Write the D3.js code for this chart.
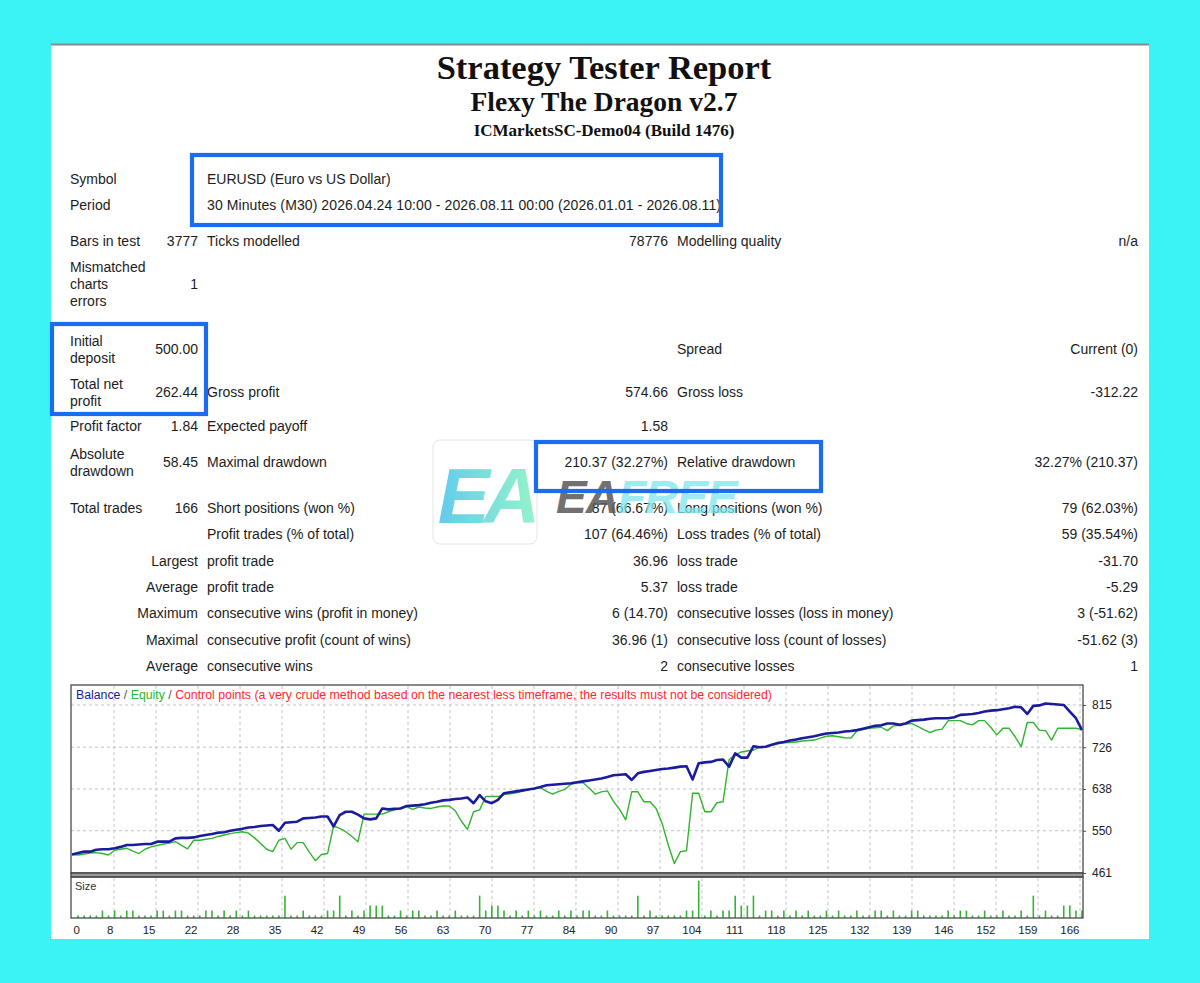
<!DOCTYPE html>
<html><head><meta charset="utf-8">
<script src="https://cdn.jsdelivr.net/npm/d3@7"></script>
<style>
html,body{margin:0;padding:0;background:#3cf3f3;}
svg{display:block;}
</style>
</head><body>
<svg id="c" width="1200" height="983"></svg>
<script>
// ---------------- DATA ----------------
const titleLines = ["Strategy Tester Report", "Flexy The Dragon v2.7", "ICMarketsSC-Demo04 (Build 1476)"];

// report table: 6 columns [label, value, label, value, label, value]
const reportRows = [
  ["Symbol", "", "EURUSD (Euro vs US Dollar)", "", "", ""],
  ["Period", "", "30 Minutes (M30) 2026.04.24 10:00 - 2026.08.11 00:00 (2026.01.01 - 2026.08.11)", "", "", ""],
  ["Bars in test", "3777", "Ticks modelled", "78776", "Modelling quality", "n/a"],
  ["Mismatched\ncharts\nerrors", "1", "", "", "", ""],
  ["Initial\ndeposit", "500.00", "", "", "Spread", "Current (0)"],
  ["Total net\nprofit", "262.44", "Gross profit", "574.66", "Gross loss", "-312.22"],
  ["Profit factor", "1.84", "Expected payoff", "1.58", "", ""],
  ["Absolute\ndrawdown", "58.45", "Maximal drawdown", "210.37 (32.27%)", "Relative drawdown", "32.27% (210.37)"],
  ["Total trades", "166", "Short positions (won %)", "87 (66.67%)", "Long positions (won %)", "79 (62.03%)"],
  ["", "", "Profit trades (% of total)", "107 (64.46%)", "Loss trades (% of total)", "59 (35.54%)"],
  ["", "Largest", "profit trade", "36.96", "loss trade", "-31.70"],
  ["", "Average", "profit trade", "5.37", "loss trade", "-5.29"],
  ["", "Maximum", "consecutive wins (profit in money)", "6 (14.70)", "consecutive losses (loss in money)", "3 (-51.62)"],
  ["", "Maximal", "consecutive profit (count of wins)", "36.96 (1)", "consecutive loss (count of losses)", "-51.62 (3)"],
  ["", "Average", "consecutive wins", "2", "consecutive losses", "1"]
];

// balance per trade (index 0 = initial deposit)
const balance = [
  500,503,506,506,510,511,511,513,516,520,
  520,521,522,522,527,527,527,534,535,535,
  536,539,541,543,546,547,550,552,554,557,
  558,560,561,562,550,567,568,569,576,577,
  578,580,580,559,583,590,590,584,576,574,
  576,597,595,596,597,602,603,604,606,609,
  611,614,615,617,618,620,608,625,612,608,
  615,629,631,633,635,637,639,642,646,647,
  648,649,650,652,654,656,658,660,663,667,
  668,669,657,671,674,676,678,680,681,683,
  685,686,658,692,694,695,699,700,685,713,
  704,704,728,726,727,731,735,737,740,742,
  745,747,749,752,755,756,757,759,760,762,
  765,768,771,772,776,776,773,776,782,783,
  784,786,787,787,787,789,794,795,796,798,
  801,803,804,806,808,811,810,796,813,814,
  818,817,816,815,801,787,762
];

// equity per trade
const equity = [
  500,499,501,503,504,502,499,509,511,513,
  507,502,511,516,519,522,524,527,519,512,
  530,530,532,534,538,541,544,546,548,545,
  535,523,511,506,530,534,511,525,525,505,
  487,500,502,560,555,548,538,527,585,585,
  585,585,590,594,598,601,595,600,598,597,
  600,602,602,592,570,553,590,594,622,622,
  622,626,628,630,633,636,639,641,633,627,
  633,637,648,651,651,640,627,632,634,612,
  595,573,632,632,611,611,597,565,520,481,
  506,508,629,629,590,590,609,611,700,710,
  716,718,720,726,727,730,733,735,736,737,
  739,740,741,745,749,750,748,746,745,760,
  763,766,767,768,761,771,772,775,776,770,
  763,757,762,764,782,782,782,776,773,782,
  782,768,752,766,766,748,727,778,778,762,
  761,741,766,766,766,766,763
];

// lot size of trades 1..166
const lotSize = [
  0.01,0.01,0.01,0.01,0.03,0.01,0.03,0.01,0.03,0.03,
  0.01,0.01,0.01,0.03,0.03,0.01,0.03,0.03,0.01,0.01,
  0.01,0.03,0.03,0.01,0.03,0.01,0.03,0.01,0.03,0.01,
  0.01,0.01,0.01,0.01,0.09,0.01,0.01,0.03,0.01,0.01,
  0.01,0.03,0.03,0.09,0.01,0.03,0.01,0.03,0.05,0.05,
  0.05,0.01,0.01,0.03,0.01,0.03,0.03,0.01,0.01,0.03,
  0.01,0.01,0.03,0.01,0.01,0.01,0.09,0.03,0.05,0.05,
  0.03,0.01,0.03,0.01,0.03,0.01,0.03,0.01,0.01,0.03,
  0.01,0.03,0.01,0.03,0.03,0.01,0.01,0.03,0.01,0.01,
  0.01,0.01,0.09,0.01,0.03,0.01,0.01,0.01,0.01,0.01,
  0.03,0.03,0.15,0.01,0.03,0.01,0.03,0.03,0.09,0.05,
  0.05,0.09,0.01,0.03,0.03,0.01,0.03,0.01,0.03,0.01,
  0.03,0.01,0.01,0.03,0.01,0.03,0.01,0.01,0.03,0.01,
  0.01,0.03,0.03,0.01,0.03,0.01,0.01,0.03,0.03,0.01,
  0.01,0.01,0.01,0.03,0.01,0.03,0.03,0.01,0.01,0.03,
  0.01,0.01,0.03,0.01,0.01,0.03,0.01,0.09,0.01,0.03,
  0.01,0.01,0.05,0.05,0.03,0.03
];

const yTickValues = [461, 550, 638, 726, 815];
const xTickLabels = ["0","8","15","22","28","35","42","49","56","63","70","77","84","90","97","104","111","118","125","132","139","146","152","159","166"];
const legendParts = [
  ["Balance", "balance"], [" / ", "sep"], ["Equity", "equity"], [" / ", "sep"],
  ["Control points (a very crude method based on the nearest less timeframe, the results must not be considered)", "control"]
];

// ---------------- LAYOUT / STYLE ----------------
const svg = d3.select("#c");
const SANS = "Tahoma, 'Liberation Sans', Arial, sans-serif";
const SERIF = "'Liberation Serif', 'Times New Roman', serif";
const colors = {balance:"#1b1b9e", equity:"#2fb52f", sep:"#555", control:"#ff2a2a", size:"#33b533", grid:"#c4c4c4", blue:"#1a6cf0"};

// card
svg.append("rect").attr("x",51).attr("y",44).attr("width",1098).attr("height",895).attr("fill","#fff");
svg.append("line").attr("x1",51).attr("x2",1149).attr("y1",44.5).attr("y2",44.5).attr("stroke","#8a8a8a").attr("stroke-width",2);

// titles
const titleSpec = [{y:79, size:34.5}, {y:111, size:27.5}, {y:136, size:17}];
svg.selectAll("text.title").data(titleLines).join("text")
  .attr("class","title").attr("x",604).attr("y",(d,i)=>titleSpec[i].y)
  .attr("text-anchor","middle").attr("font-family",SERIF).attr("font-weight","bold")
  .attr("font-size",(d,i)=>titleSpec[i].size).attr("fill","#111").text(d=>d);

// table
const rowCenters = [179, 205, 241, 284, 349, 392, 426, 462, 508, 534, 561, 587, 613, 640, 666];
const colX = [70, 198, 207, 668, 677, 1138];
const colAnchor = ["start","end","start","end","start","end"];
const lineH = 17;
const tbl = svg.append("g").attr("font-family",SANS).attr("font-size",14).attr("fill","#1c1c1c");
reportRows.forEach((row, ri) => {
  row.forEach((cell, ci) => {
    if (!cell) return;
    const lines = cell.split("\n");
    const t = tbl.append("text").attr("text-anchor", colAnchor[ci]);
    lines.forEach((ln, li) => {
      t.append("tspan").attr("x", colX[ci])
        .attr("y", rowCenters[ri] + 5 + (li - (lines.length-1)/2) * lineH).text(ln);
    });
    if (ri === 1 && ci === 2) t.attr("textLength", 514).attr("lengthAdjust", "spacing");
  });
});

// ---------------- CHART ----------------
const PL = 71, PR = 1083, PT = 685, PB = 873, ST = 877, SB = 918;
const x = d3.scaleLinear().domain([0, balance.length - 1]).range([72, 1082]);
const y = d3.scaleLinear().domain([461, 857]).range([PB, PT]);
const gx = d3.scaleLinear().domain([0, xTickLabels.length - 1]).range([72, 1080]);
const ys = d3.scaleLinear().domain([0, 0.165]).range([SB, ST]);

const chart = svg.append("g");
chart.append("rect").attr("x",PL).attr("y",PT).attr("width",PR-PL).attr("height",PB-PT).attr("fill","#fff");
chart.append("rect").attr("x",PL).attr("y",ST).attr("width",PR-PL).attr("height",SB-ST).attr("fill","#fff");

// vertical grid (both panels)
const gridIdx = d3.range(1, xTickLabels.length);
chart.selectAll("line.vg").data(gridIdx).join("line").attr("class","vg")
  .attr("x1",d=>gx(d)).attr("x2",d=>gx(d)).attr("y1",PT+1).attr("y2",PB)
  .attr("stroke",colors.grid).attr("stroke-dasharray","3,3");
chart.selectAll("line.vgs").data(gridIdx).join("line").attr("class","vgs")
  .attr("x1",d=>gx(d)).attr("x2",d=>gx(d)).attr("y1",ST+1).attr("y2",SB)
  .attr("stroke",colors.grid).attr("stroke-dasharray","3,3");
// horizontal grid
chart.selectAll("line.hg").data(yTickValues.slice(1)).join("line").attr("class","hg")
  .attr("x1",PL).attr("x2",PR).attr("y1",d=>y(d)).attr("y2",d=>y(d))
  .attr("stroke",colors.grid).attr("stroke-dasharray","3,3");

// legend
const leg = chart.append("text").attr("x",76).attr("y",699).attr("font-family",SANS).attr("font-size",12.3);
leg.selectAll("tspan").data(legendParts).join("tspan").attr("fill",d=>colors[d[1]]).text(d=>d[0]).attr("xml:space","preserve");

// lines
const line = d3.line().x((d,i)=>x(i)).y(d=>y(d));
chart.append("path").datum(equity).attr("d",line).attr("fill","none").attr("stroke",colors.equity).attr("stroke-width",1.4).attr("stroke-linejoin","round");
chart.append("path").datum(balance).attr("d",line).attr("fill","none").attr("stroke",colors.balance).attr("stroke-width",2.6).attr("stroke-linejoin","round");

// size bars
chart.selectAll("line.bar").data(lotSize).join("line").attr("class","bar")
  .attr("x1",(d,i)=>x(i+1)).attr("x2",(d,i)=>x(i+1))
  .attr("y1",ys(0)).attr("y2",d=>ys(d))
  .attr("stroke",colors.size).attr("stroke-width",1.6);
chart.append("text").attr("x",75).attr("y",890).attr("font-family",SANS).attr("font-size",11).attr("fill","#333").text("Size");

// frames
chart.append("rect").attr("x",PL).attr("y",PT).attr("width",PR-PL).attr("height",PB-PT).attr("fill","none").attr("stroke","#4a4a4a").attr("stroke-width",1.3);
chart.append("rect").attr("x",PL).attr("y",PB).attr("width",PR-PL).attr("height",ST-PB).attr("fill","#9a9a9a").attr("stroke","#3a3a3a").attr("stroke-width",1.2);
chart.append("rect").attr("x",PL).attr("y",ST).attr("width",PR-PL).attr("height",SB-ST).attr("fill","none").attr("stroke","#4a4a4a").attr("stroke-width",1.3);

// y axis (right)
const yAxis = d3.axisRight(y).tickValues(yTickValues).tickSize(3).tickPadding(6).tickFormat(d3.format("d"));
const gy = chart.append("g").attr("transform",`translate(${PR},0)`).call(yAxis);
gy.select(".domain").remove();
gy.selectAll("text").attr("font-family",SANS).attr("font-size",12).attr("fill","#222");
gy.selectAll("line").attr("stroke","#444");

// x axis (bottom of size panel)
const xAxis = d3.axisBottom(gx).tickValues(d3.range(xTickLabels.length)).tickSize(0).tickPadding(8).tickFormat(i=>xTickLabels[i]);
const gxa = chart.append("g").attr("transform",`translate(0,${SB})`).call(xAxis);
gxa.select(".domain").remove();
gxa.selectAll("text").attr("font-family",SANS).attr("font-size",11.5).attr("fill","#222")
  .attr("text-anchor",(d,i)=> i===0 ? "start" : "end")
  .attr("dx",(d,i)=> i===0 ? 1 : -1);

// ---------------- WATERMARK ----------------
const defs = svg.append("defs");
const grad = defs.append("linearGradient").attr("id","eag").attr("x1","0").attr("x2","1").attr("y1","0").attr("y2","0");
grad.append("stop").attr("offset","0").attr("stop-color","#4ec4ec");
grad.append("stop").attr("offset","1").attr("stop-color","#86f2c2");
const wm = svg.append("g").attr("opacity",0.88);
wm.append("rect").attr("x",433).attr("y",440).attr("width",104).attr("height",104).attr("rx",7)
  .attr("fill","#fff").attr("stroke","#e2e2e2");
wm.append("text").attr("x",486).attr("y",523).attr("text-anchor","middle")
  .attr("font-family","'Liberation Sans', Arial, sans-serif").attr("font-weight","bold").attr("font-style","italic")
  .attr("font-size",78).attr("fill","url(#eag)").attr("letter-spacing",-6).text("EA");
const wt = wm.append("text").attr("x",556).attr("y",513)
  .attr("font-family","'Liberation Sans', Arial, sans-serif").attr("font-weight","bold").attr("font-style","italic")
  .attr("font-size",46).attr("letter-spacing",-1);
wt.append("tspan").attr("fill","#5e5e5e").text("EA");
wt.append("tspan").attr("fill","#7fe6ef").attr("opacity",0.85).text("FREE");

// ---------------- HIGHLIGHT BOXES ----------------
const boxes = [[192,155,721,225],[52,324,206,414],[536,442,821,491]];
svg.selectAll("rect.hl").data(boxes).join("rect").attr("class","hl")
  .attr("x",d=>d[0]).attr("y",d=>d[1]).attr("width",d=>d[2]-d[0]).attr("height",d=>d[3]-d[1])
  .attr("fill","none").attr("stroke",colors.blue).attr("stroke-width",4.2);
</script>
</body></html>
